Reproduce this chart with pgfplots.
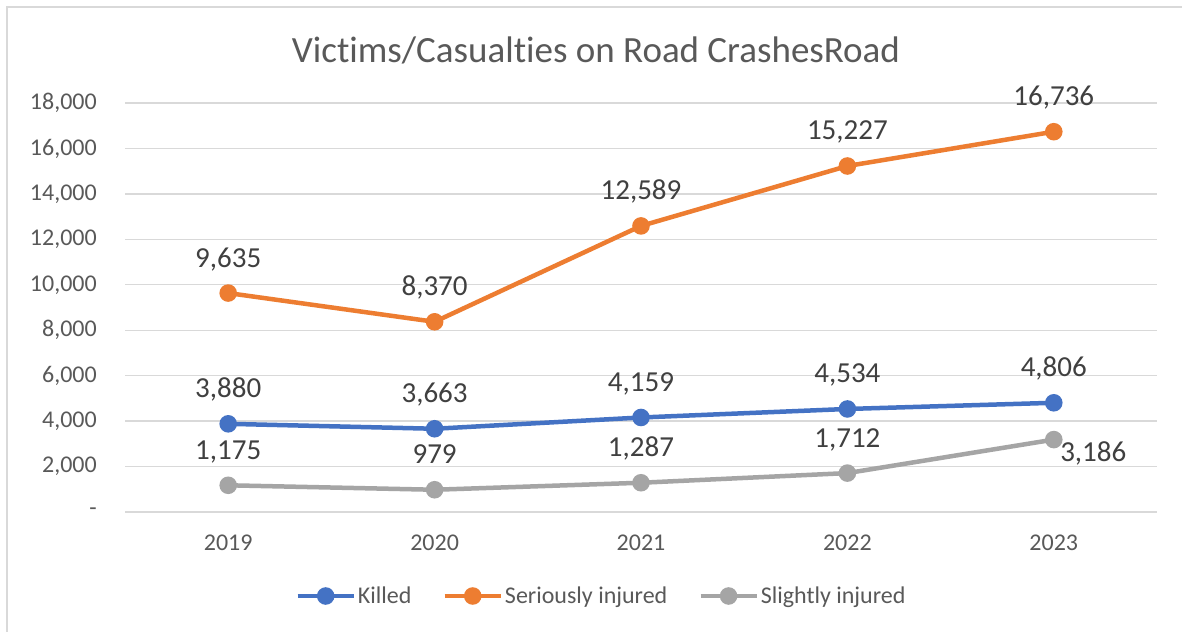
\documentclass[border=0pt]{standalone}
\usepackage{pgfplots}
\pgfplotsset{compat=1.18}
\usepackage{pgfplotstable}
\usepackage{fontspec}
\setmainfont{Carlito}[Ligatures=NoCommon]
\definecolor{cK}{HTML}{4472C4}
\definecolor{cS}{HTML}{ED7D31}
\definecolor{cL}{HTML}{A5A5A5}
\definecolor{gridc}{HTML}{D9D9D9}
\definecolor{txt}{HTML}{595959}
\definecolor{lbl}{HTML}{404040}
\definecolor{frame}{HTML}{D9D9D9}

\pgfplotstableread{
x y dx dy
0 3880 0 26
1 3663 0 26
2 4159 0 26
3 4534 0 26
4 4806 0 26
}\killed
\pgfplotstableread{
x y dx dy
0 9635 0 26
1 8370 0 26
2 12589 0 26
3 15227 0 26
4 16736 0 26
}\serious
\pgfplotstableread{
x y dx dy
0 1175 0 26
1 979 0 26
2 1287 0 26
3 1712 0 26
4 3186 39.5 -22
}\slight

\begin{document}
\begin{tikzpicture}[x=1bp,y=1bp]
\useasboundingbox (0,0) rectangle (1182,632);
\fill[white] (0,0) rectangle (1182,632);
\draw[frame, line width=2bp] (7,0) -- (7,625) -- (1182,625);
\node[txt, font=\fontsize{37bp}{44bp}\selectfont, anchor=center] at (596,582) {Victims/Casualties on Road CrashesRoad};
\begin{axis}[
  at={(125bp,120bp)}, anchor=south west,
  scale only axis, width=1032bp, height=409bp,
  xmin=-0.5, xmax=4.5, ymin=0, ymax=18000,
  clip=false,
  scaled y ticks=false,
  axis line style={draw=none},
  major tick length=0pt,
  xtick={0,1,2,3,4},
  xticklabels={2019,2020,2021,2022,2023},
  ytick={0,2000,4000,6000,8000,10000,12000,14000,16000,18000},
  yticklabels={{-},{2,000},{4,000},{6,000},{8,000},{10,000},{12,000},{14,000},{16,000},{18,000}},
  ymajorgrids,
  grid style={gridc, line width=1.4bp},
  tick label style={txt, font=\fontsize{24bp}{29bp}\selectfont, inner sep=0pt},
  yticklabel style={anchor=east, xshift=-28bp},
  xticklabel style={anchor=north, yshift=-23bp},
  /pgf/number format/assume math mode=true,
  /pgf/number format/.cd, fixed, precision=0, 1000 sep={,},
  /pgfplots/.cd,
  every axis plot/.append style={line width=4.5bp, mark=*, mark size=6.5bp, mark options={line width=0.5bp}},
  visualization depends on={\thisrow{dx} \as \dx},
  visualization depends on={\thisrow{dy} \as \dy},
  nodes near coords,
  nodes near coords style={lbl, font=\fontsize{29bp}{35bp}\selectfont, anchor=base, inner sep=0pt, xshift=\dx bp, yshift=\dy bp},
  legend columns=3,
  legend style={at={(0.4617,-0.2054)}, anchor=center, draw=none, fill=none,
    font=\fontsize{24bp}{29bp}\selectfont, text=txt, inner sep=0pt,
    nodes={inner sep=2bp},
    /tikz/every even column/.append style={column sep=29bp}},
  legend image code/.code={
    \draw[#1, mark=none] (0bp,0bp) -- (56bp,0bp);
    \draw[#1, draw=none] plot[mark=*] coordinates {(28bp,0bp)};
  },
]
\addplot[cK, mark options={fill=cK, draw=cK}] table[x=x, y=y] {\killed};
\addlegendentry{Killed}
\addplot[cS, mark options={fill=cS, draw=cS}] table[x=x, y=y] {\serious};
\addlegendentry{Seriously injured}
\addplot[cL, mark options={fill=cL, draw=cL}] table[x=x, y=y] {\slight};
\addlegendentry{Slightly injured}
\end{axis}
\end{tikzpicture}
\end{document}
